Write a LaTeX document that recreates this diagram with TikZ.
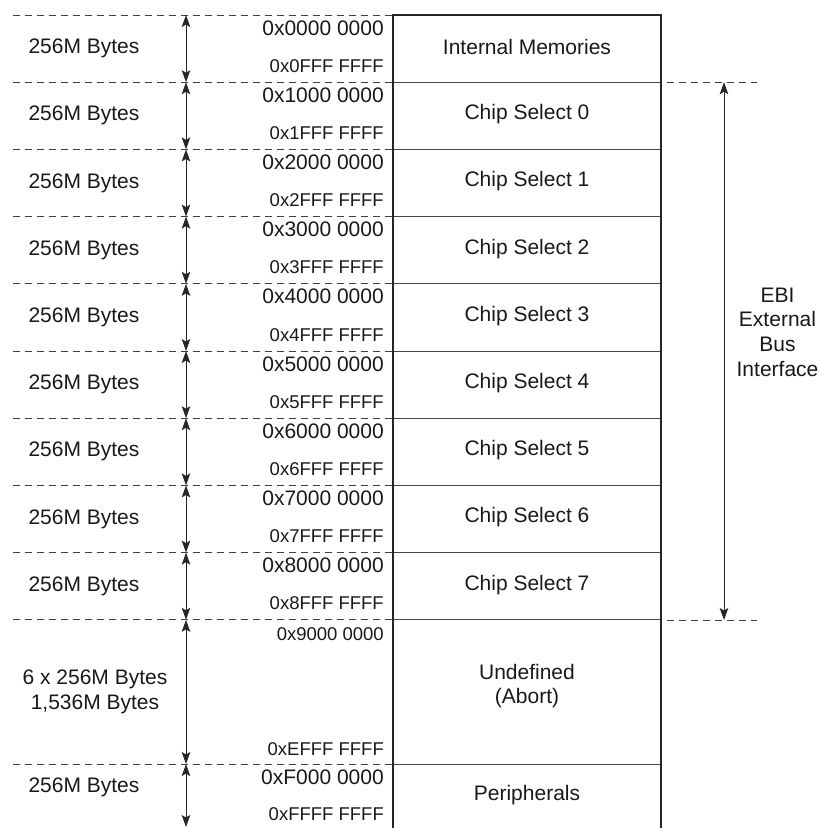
\documentclass[tikz,border=0pt]{standalone}
\usepackage{fontspec}
\setmainfont{Liberation Sans}
\usetikzlibrary{arrows.meta}
\begin{document}
\begin{tikzpicture}[x=1pt,y=-1pt,
  big/.style={font=\fontsize{21}{24.7}\selectfont, text=black!90, inner sep=0pt},
  small/.style={font=\fontsize{18.5}{22}\selectfont, text=black!90, inner sep=0pt},
  sepline/.style={draw=black!75, line width=1pt, dash pattern=on 7pt off 5pt},
  innerline/.style={draw=black!72, line width=1pt},
  wall/.style={draw=black!85, line width=2.2pt},
  dimarrow/.style={draw=black!85, line width=1pt,
    {Stealth[length=12pt,width=8.5pt,inset=2.5pt]}-{Stealth[length=12pt,width=8.5pt,inset=2.5pt]}},
]
\useasboundingbox (0,0) rectangle (819,828);

% boundary coordinates
\foreach \i in {0,...,9}{
  \pgfmathsetmacro\yy{15+67.2*\i}
  \coordinate (L\i) at (13,\yy);
  \coordinate (B\i) at (393,\yy);
  \coordinate (R\i) at (661,\yy);
  \coordinate (A\i) at (186,\yy);
}
\coordinate (L10) at (13,764);
\coordinate (B10) at (393,764);
\coordinate (R10) at (661,764);
\coordinate (A10) at (186,764);
\coordinate (A11) at (186,827);
\coordinate (Bend) at (393,828);
\coordinate (Rend) at (661,828);

% left dashed separators
\foreach \i in {0,...,10}{
  \draw[sepline] (L\i) -- (B\i);
}
% inner separators
\foreach \i in {1,...,10}{
  \draw[innerline] (B\i) -- (R\i);
}
% right dashed extensions
\coordinate (E1a) at (667,82.2);
\coordinate (E1b) at (757,82.2);
\coordinate (E9a) at (667,620);
\coordinate (E9b) at (757,620);
\draw[sepline] (E1a) -- (E1b);
\draw[sepline] (E9a) -- (E9b);

% box walls
\draw[wall] (Bend) -- (B0) -- (R0) -- (Rend);

% size arrows
\foreach \i [evaluate=\i as \j using int(\i+1)] in {0,...,10}{
  \draw[dimarrow] (A\i) -- (A\j);
}
% EBI arrow
\coordinate (EBIt) at (724,82.2);
\coordinate (EBIb) at (724,620);
\draw[dimarrow] (EBIt) -- (EBIb);
\node[big, align=center] (ebi) at (777.5,332) {EBI\\External\\Bus\\Interface};

% regular rows
\foreach \i/\ta/\ba/\name in {
  0/0x0000 0000/0x0FFF FFFF/Internal Memories,
  1/0x1000 0000/0x1FFF FFFF/Chip Select 0,
  2/0x2000 0000/0x2FFF FFFF/Chip Select 1,
  3/0x3000 0000/0x3FFF FFFF/Chip Select 2,
  4/0x4000 0000/0x4FFF FFFF/Chip Select 3,
  5/0x5000 0000/0x5FFF FFFF/Chip Select 4,
  6/0x6000 0000/0x6FFF FFFF/Chip Select 5,
  7/0x7000 0000/0x7FFF FFFF/Chip Select 6,
  8/0x8000 0000/0x8FFF FFFF/Chip Select 7}{
  \pgfmathsetmacro\yt{15+67.2*\i}
  \pgfmathsetmacro\ym{\yt+33.6}
  \node[big] (size\i) at (84,\ym) {256M Bytes};
  \node[big, anchor=base east] (top\i) at (384,\yt+20) {\ta};
  \node[small, anchor=base east] (bot\i) at (384,\yt+57.2) {\ba};
  \node[big] (reg\i) at (527,\ym-1.5) {\name};
}

% undefined row
\node[big, align=center] (size9) at (95,692) {6 x 256M Bytes\\1,536M Bytes};
\node[small, anchor=base east] (top9) at (384,640) {0x9000 0000};
\node[small, anchor=base east] (bot9) at (384,755) {0xEFFF FFFF};
\node[big, align=center] (reg9) at (527,686) {Undefined\\(Abort)};

% peripherals row
\node[big] (size10) at (84,787) {256M Bytes};
\node[big, anchor=base east] (top10) at (384,784.3) {0xF000 0000};
\node[small, anchor=base east] (bot10) at (384,820.7) {0xFFFF FFFF};
\node[big] (reg10) at (527,795) {Peripherals};
\end{tikzpicture}
\end{document}
